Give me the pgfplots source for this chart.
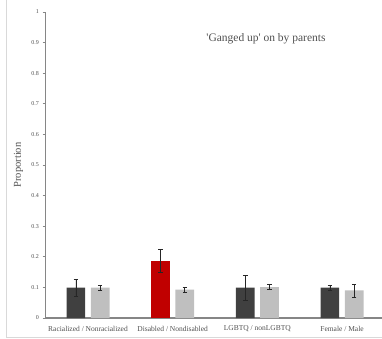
\documentclass[border=0pt]{standalone}
\usepackage{fontspec}
\setmainfont{Liberation Serif}
\newfontfamily\plainserif{Liberation Serif}
\usepackage{pgfplots}
\pgfplotsset{compat=1.18}
\definecolor{darkbar}{HTML}{404040}
\definecolor{lightbar}{HTML}{BFBFBF}
\definecolor{redbar}{HTML}{C00000}
\definecolor{axisgray}{HTML}{868686}
\definecolor{txtgray}{HTML}{505050}
\begin{document}
\begin{tikzpicture}
\useasboundingbox (0,0) rectangle (382bp,339bp);
\draw[draw=black!15, line width=0.8bp] (6bp,339bp) -- (6bp,2bp) -- (382bp,2bp);
\begin{axis}[
 at={(45.5bp,21bp)}, anchor=south west,
 scale only axis, width=336.5bp, height=306bp,
 xmin=-0.502, xmax=3.472, ymin=0, ymax=1,
 axis x line=bottom, axis y line=left,
 axis line style={draw=axisgray, line width=1.3bp, -},
 xtick={0,1,2,3},
 xticklabels={Racialized / Nonracialized, Disabled / Nondisabled, LGBTQ / nonLGBTQ, Female / Male},
 x tick style={draw=none},
 ytick={0,0.1,0.2,0.3,0.4,0.5,0.6,0.7,0.8,0.9,1},
 y tick style={draw=axisgray, line width=0.6bp},
 tick align=outside, major tick length=3bp,
 /pgf/number format/assume math mode=true,
 y tick label style={font=\fontsize{6bp}{7bp}\selectfont, text=txtgray},
 x tick label style={font=\fontsize{7.5bp}{8bp}\selectfont, text=txtgray, yshift=-1.5bp},
 ylabel={Proportion},
 ylabel style={at={(axis description cs:-0.0805,0.5)}, anchor=center, font=\fontsize{10.5bp}{12bp}\selectfont, text=txtgray},
 ybar, bar width=18.7bp,
 error bars/y dir=both, error bars/y explicit,
 error bars/error bar style={line width=0.7bp, black!85},
 error bars/error mark options={rotate=90, mark size=2.3bp, line width=0.7bp, black!85},
 clip=false,
]
\addplot[fill=darkbar, draw=none, bar shift=-12.15bp] coordinates {
 (0,0.099) += (0,0.028) -= (0,0.027)
 (2,0.099) += (0,0.040) -= (0,0.040)
 (3,0.099) += (0,0.009) -= (0,0.008)};
\addplot[fill=redbar, draw=none, bar shift=-12.15bp] coordinates {
 (1,0.186) += (0,0.039) -= (0,0.036)};
\addplot[fill=lightbar, draw=none, bar shift=12.15bp] coordinates {
 (0,0.099) += (0,0.008) -= (0,0.008)
 (1,0.093) += (0,0.008) -= (0,0.009)
 (2,0.101) += (0,0.008) -= (0,0.008)
 (3,0.090) += (0,0.021) -= (0,0.021)};
\node[font=\plainserif\fontsize{11.5bp}{13bp}\selectfont, text=txtgray] at (axis cs:2.102,0.912) {'Ganged up' on by parents};
\end{axis}
\end{tikzpicture}
\end{document}
